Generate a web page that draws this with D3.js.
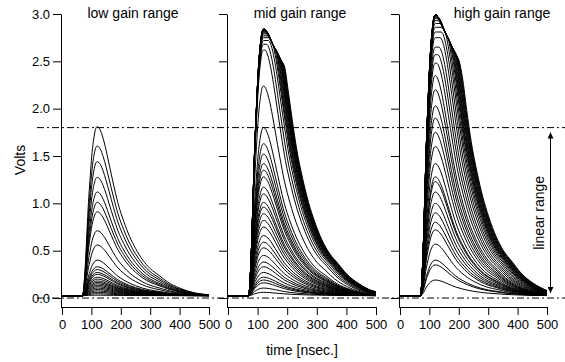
<!DOCTYPE html>
<html><head><meta charset="utf-8">
<script src="https://cdn.jsdelivr.net/npm/d3@7"></script>
<style>
body{margin:0;background:#fff}
svg{display:block}
text{font-family:"Liberation Sans",Arial,Helvetica,sans-serif;fill:#000}
</style>
</head><body>
<svg id="chart" width="565" height="362"></svg>
<script>
// ---- data ----
// normalised pulse shape (time in ns, value relative to the peak)
const shapeTimes  = [0, 60, 70, 75, 80, 85, 90, 95, 100, 105, 110, 115, 120, 125, 130, 140, 150, 160, 175, 190, 210, 230, 250, 275, 300, 330, 360, 400, 450, 500];
const shapeValues = [0, 0, 0, 0.07, 0.2, 0.38, 0.55, 0.68, 0.8, 0.89, 0.95, 0.99, 1.0, 0.995, 0.98, 0.93, 0.86, 0.78, 0.66, 0.55, 0.44, 0.35, 0.28, 0.21, 0.16, 0.12, 0.08, 0.045, 0.017, 0.005];
const pedestal = 0.025;

// peak voltages of the pulses, per gain range
const lowPeaks = [0.03, 0.045, 0.06, 0.075, 0.09, 0.105, 0.12, 0.135, 0.15, 0.165, 0.18, 0.2, 0.22, 0.25, 0.27, 0.3, 0.33, 0.4, 0.56, 0.71, 0.91, 1.01, 1.12, 1.275, 1.44, 1.605, 1.81];

const midPeaks  = [0.06, 0.105, 0.16, 0.19, 0.22, 0.27, 0.33, 0.38, 0.45, 0.53, 0.59, 0.66, 0.75, 0.82, 0.89, 0.96, 1.01, 1.1, 1.17, 1.28, 1.35, 1.42, 1.52, 1.63, 1.8, 2.24,
                   2.62, 2.68, 2.72, 2.75, 2.77, 2.79, 2.8, 2.81, 2.82, 2.82, 2.83, 2.83, 2.83, 2.84, 2.84, 2.84, 2.84];
// extra length (ns) of the falling edge of the saturated pulses
const midDelays = [0, 0, 0, 0, 0, 0, 0, 0, 0, 0, 0, 0, 0, 0, 0, 0, 0, 0, 0, 0, 0, 0, 0, 0, 0, 0,
                   4, 10, 16, 20, 22, 24, 26, 28, 30, 31, 33, 34, 36, 37, 39, 40, 42];

const highPeaks  = [0.19, 0.35, 0.4, 0.57, 0.72, 0.8, 0.9, 1.0, 1.12, 1.23, 1.28, 1.42, 1.6, 1.75, 1.9, 2.03, 2.2, 2.35,
                    2.48, 2.57, 2.65, 2.75, 2.81,
                    2.86, 2.9, 2.93, 2.95, 2.96, 2.97, 2.98, 2.98, 2.99, 2.99, 2.99, 2.99, 2.99, 2.99];
const highDelays = [0, 0, 0, 0, 0, 0, 0, 0, 0, 0, 0, 0, 0, 0, 0, 0, 0, 0,
                    4, 8, 12, 16, 20,
                    24, 27, 30, 32, 34, 36, 38, 40, 42, 44, 46, 48, 50, 52];

// saturation ceilings (time ns, volts)
const midCeilTimes   = [0, 125, 186, 500];
const midCeilValues  = [2.84, 2.84, 2.47, 0.46];
const highCeilTimes  = [0, 125, 204, 500];
const highCeilValues = [2.99, 2.99, 2.48, 0.58];

const yTicks = [0, 0.5, 1.0, 1.5, 2.0, 2.5, 3.0];
const xTicks = [0, 100, 200, 300, 400, 500];
const titles = ["low gain range", "mid gain range", "high gain range"];
const refLines = [1.8, 0.0];
const linearRange = [0.0, 1.8];

// ---- drawing ----
const svg = d3.select("#chart");
const y = d3.scaleLinear().domain([-0.1, 3.0]).range([307.5, 14]);
const shape = d3.scaleLinear().domain(shapeTimes).range(shapeValues).clamp(true);
const tPeak = shapeTimes[shapeValues.indexOf(d3.max(shapeValues))];

const panels = [
  {x0: 62, x1: 209, axisX: 61, peaks: lowPeaks, delays: lowPeaks.map(() => 0), ceil: null, titleX: 133},
  {x0: 228, x1: 376, axisX: 227, peaks: midPeaks, delays: midDelays,
   ceil: d3.scaleLinear().domain(midCeilTimes).range(midCeilValues).clamp(true), titleX: 300},
  {x0: 400, x1: 547, axisX: 399, peaks: highPeaks, delays: highDelays,
   ceil: d3.scaleLinear().domain(highCeilTimes).range(highCeilValues).clamp(true), titleX: 502}
];

function pulse(peak, delay, ceil) {
  const amp = peak - pedestal;
  const C = t => ceil ? ceil(t) : Infinity;
  const pts = [];
  shapeTimes.forEach((t, i) => {
    if (t <= tPeak) pts.push([t, Math.min(pedestal + amp * shapeValues[i], C(t))]);
  });
  if (delay > 0) {
    const inner = [];
    if (ceil) {
      // where the ceiling drops below the peak
      midOrHigh: for (let k = 0; k < 1; k++) {}
      const tc = d3.range(tPeak + 1, tPeak + delay, 1).find(t => C(t) < peak);
      if (tc !== undefined) inner.push(tc);
      (ceil.domain()).forEach(t => { if (t > tPeak && t < tPeak + delay) inner.push(t); });
    }
    inner.push(tPeak + delay);
    inner.sort((a, b) => a - b).forEach(t => pts.push([t, Math.min(peak, C(t))]));
  }
  shapeTimes.forEach((t, i) => {
    if (t > tPeak) {
      const tt = t + delay;
      if (tt <= 500) pts.push([tt, Math.min(pedestal + amp * shapeValues[i], C(tt))]);
    }
  });
  if (pts[pts.length - 1][0] < 500) {
    pts.push([500, Math.min(pedestal + amp * shape(500 - delay), C(500))]);
  }
  return pts;
}

panels.forEach((p, pi) => {
  const x = d3.scaleLinear().domain([0, 500]).range([p.x0, p.x1]);
  const line = d3.line().x(d => x(d[0])).y(d => y(d[1])).curve(d3.curveMonotoneX);
  const g = svg.append("g");
  p.peaks.forEach((pk, i) => {
    g.append("path")
      .attr("d", line(pulse(pk, p.delays[i], p.ceil)))
      .attr("fill", "none").attr("stroke", "#000").attr("stroke-width", 1);
  });

  // y axis
  const ya = svg.append("g").attr("transform", `translate(${p.axisX},0)`)
    .call(d3.axisLeft(y).tickValues(yTicks).tickSize(8).tickSizeOuter(0)
      .tickFormat(pi === 0 ? d3.format(".1f") : () => ""));
  ya.selectAll("text").attr("font-size", 13).attr("font-family", "Liberation Sans, Arial, sans-serif").attr("x", -11);
  ya.attr("font-family", null).attr("font-size", null);
  ya.selectAll("path,line").attr("stroke", "#000");

  // x axis
  const xa = svg.append("g").attr("transform", "translate(0,307)")
    .call(d3.axisBottom(x).tickValues(xTicks).tickSize(8).tickSizeOuter(0).tickFormat(d3.format("d")));
  xa.attr("font-family", null).attr("font-size", null);
  xa.selectAll("text").attr("font-size", 13).attr("y", 13);
  xa.selectAll("path,line").attr("stroke", "#000");

  svg.append("text").attr("x", p.titleX).attr("y", 18).attr("text-anchor", "middle")
    .attr("font-size", 14).text(titles[pi]);
});

// dash-dot reference lines
refLines.forEach(v => {
  svg.append("line").attr("x1", 37).attr("x2", 565).attr("y1", y(v)).attr("y2", y(v))
    .attr("stroke", "#000").attr("stroke-width", 1).attr("stroke-dasharray", "7,3,2,3");
});

// linear range arrow
const defs = svg.append("defs");
defs.append("marker").attr("id", "ah").attr("viewBox", "0 0 10 10").attr("refX", 10).attr("refY", 5)
  .attr("markerWidth", 9).attr("markerHeight", 6).attr("markerUnits", "userSpaceOnUse").attr("orient", "auto-start-reverse")
  .append("path").attr("d", "M0,0L10,5L0,10Z").attr("fill", "#000");
svg.append("line").attr("x1", 550.5).attr("x2", 550.5)
  .attr("y1", y(linearRange[1]) + 5).attr("y2", y(linearRange[0]) - 5)
  .attr("stroke", "#000").attr("stroke-width", 1)
  .attr("marker-start", "url(#ah)").attr("marker-end", "url(#ah)");
svg.append("text").attr("transform", `translate(544,${(y(linearRange[0]) + y(linearRange[1])) / 2}) rotate(-90)`)
  .attr("text-anchor", "middle").attr("font-size", 14).text("linear range");

// axis titles
svg.append("text").attr("transform", "translate(25,160) rotate(-90)").attr("text-anchor", "middle")
  .attr("font-size", 14).text("Volts");
svg.append("text").attr("x", 302).attr("y", 355).attr("text-anchor", "middle")
  .attr("font-size", 14).text("time [nsec.]");
</script>
</body></html>
